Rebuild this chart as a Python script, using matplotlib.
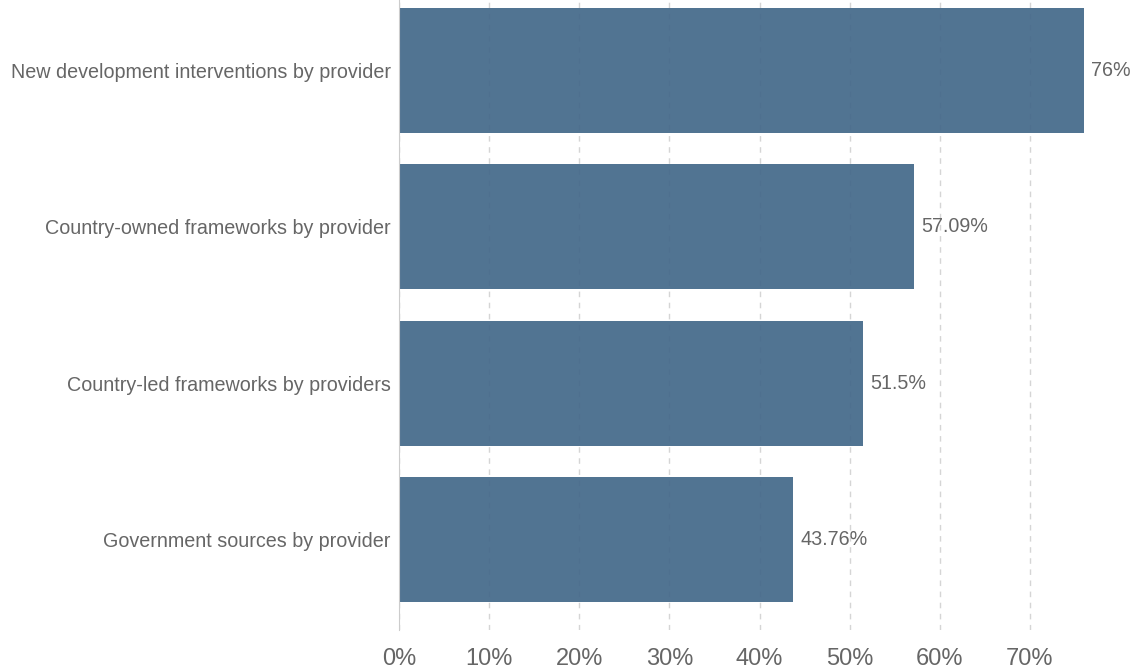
import matplotlib
matplotlib.use("Agg")
import matplotlib.pyplot as plt

categories = [
    "New development interventions by provider",
    "Country-owned frameworks by provider",
    "Country-led frameworks by providers",
    "Government sources by provider",
]
values = [76, 57.09, 51.5, 43.76]
value_labels = ["76%", "57.09%", "51.5%", "43.76%"]
xticks = [0, 10, 20, 30, 40, 50, 60, 70]

plt.rcParams['font.family'] = ['Liberation Sans', 'DejaVu Sans']

W, H = 1134, 670
fig = plt.figure(figsize=(W / 100, H / 100), dpi=100)
# axes from x=399 to 1084, y=-20 to 630 (pixels)
ax = fig.add_axes([399 / W, (H - 630) / H, (1084 - 399) / W, 650 / H])

y = list(range(len(categories)))
ax.barh(y, values, height=0.8, color="#44698a", alpha=0.93, zorder=2)
ax.set_ylim(3.58, -0.58)
ax.set_xlim(0, 76)

for yi, v, lab in zip(y, values, value_labels):
    ax.text(v + 0.8, yi, lab, va="center", ha="left", fontsize=14.2, color="#666666")

ax.set_yticks(y)
ax.set_yticklabels(categories, fontsize=14.2, color="#666666")
ax.set_xticks(xticks)
ax.set_xticklabels([f"{t}%" for t in xticks], fontsize=17, color="#666666")
ax.tick_params(axis="both", length=0)
ax.tick_params(axis="y", pad=6)
ax.tick_params(axis="x", pad=13)

ax.grid(axis="x", color="#d5d5d5", linestyle=(0, (4, 4)), linewidth=1, zorder=0)
for s in ["top", "right", "bottom"]:
    ax.spines[s].set_visible(False)
ax.spines["left"].set_color("#cccccc")
ax.set_axisbelow(True)

fig.savefig("out.png", dpi=100)
